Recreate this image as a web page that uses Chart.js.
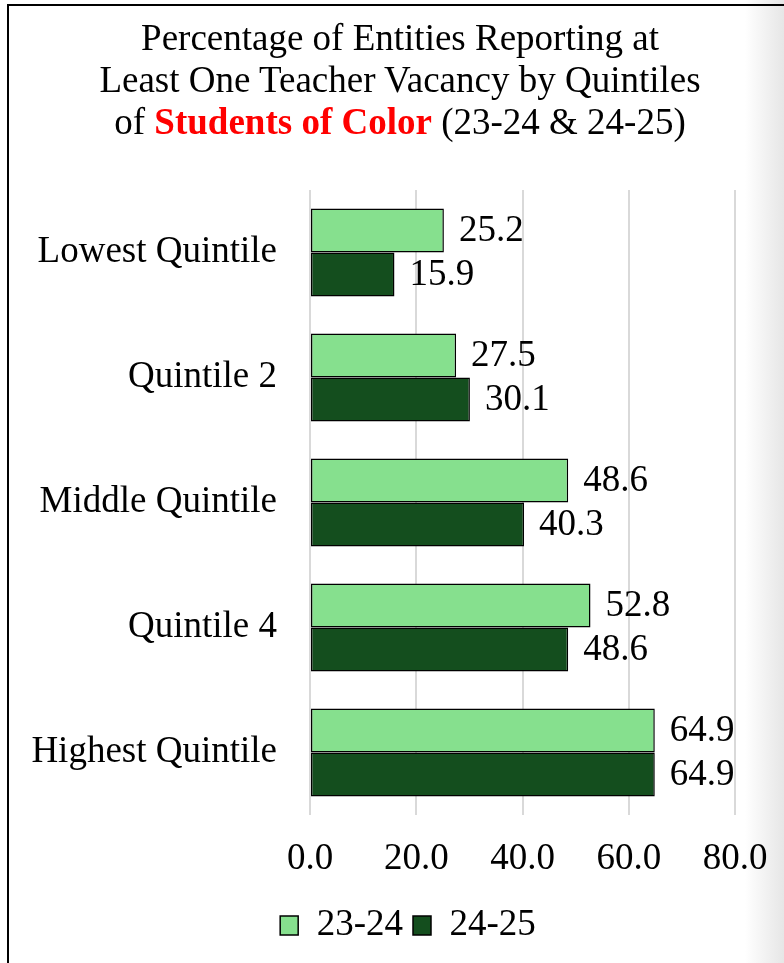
<!DOCTYPE html>
<html>
<head>
<meta charset="utf-8">
<script src="https://cdn.jsdelivr.net/npm/chart.js@4"></script>
<style>
  body { margin: 0; }
  #page {
    position: relative; width: 784px; height: 963px; overflow: hidden;
    background: linear-gradient(to right, #ffffff 0px, #ffffff 745px, #e6e6e6 784px);
  }
  #frame {
    position: absolute; left: 7px; top: 4px; width: 800px; height: 1000px;
    border-left: 2px solid #000; border-top: 2px solid #000;
  }
  #title {
    position: absolute; left: 0; top: 17px; width: 800px; text-align: center;
    font-family: "Liberation Serif", "Times New Roman", serif; font-size: 37px; line-height: 42px;
    color: #000;
  }
  #title b { color: #ff0000; }
  canvas { position: absolute; left: 0; top: 0; }
</style>
</head>
<body>
<div id="page">
  <div id="frame"></div>
  <canvas id="vacancyChart" width="784" height="963"></canvas>
  <div id="title">Percentage of Entities Reporting at<br>Least One Teacher Vacancy by Quintiles<br>of <b>Students of Color</b> (23-24 &amp; 24-25)</div>
</div>
<script>
  const quintiles = ['Lowest Quintile', 'Quintile 2', 'Middle Quintile', 'Quintile 4', 'Highest Quintile'];
  const year2324 = [25.2, 27.5, 48.6, 52.8, 64.9];
  const year2425 = [15.9, 30.1, 40.3, 48.6, 64.9];
  const xTicks = [0, 20, 40, 60, 80];

  const serif = '"Liberation Serif", "Times New Roman", serif';

  // value labels at the end of each bar
  const barValues = {
    id: 'barValues',
    afterDatasetsDraw(chart) {
      const ctx = chart.ctx;
      ctx.save();
      ctx.font = '37px ' + serif;
      ctx.fillStyle = '#000';
      ctx.textAlign = 'left';
      ctx.textBaseline = 'middle';
      chart.data.datasets.forEach((ds, i) => {
        chart.getDatasetMeta(i).data.forEach((bar, j) => {
          ctx.fillText(ds.data[j].toFixed(1), bar.x + 15, bar.y + 1);
        });
      });
      ctx.restore();
    }
  };

  const vacancyCtx = document.getElementById('vacancyChart').getContext('2d');
  new Chart(vacancyCtx, {
    type: 'bar',
    data: {
      labels: quintiles,
      datasets: [{
        label: '23-24',
        data: year2324,
        backgroundColor: '#86E08E',
        borderColor: '#000',
        borderWidth: 1.5,
        borderSkipped: false,
        categoryPercentage: 0.704,
        barPercentage: 1
      }, {
        label: '24-25',
        data: year2425,
        backgroundColor: '#144E1E',
        borderColor: '#000',
        borderWidth: 1.5,
        borderSkipped: false,
        categoryPercentage: 0.704,
        barPercentage: 1
      }]
    },
    options: {
      indexAxis: 'y',
      responsive: false,
      animation: false,
      layout: { padding: { top: 190, left: 32, right: 0, bottom: 9 } },
      scales: {
        x: {
          min: 0,
          max: 80,
          afterBuildTicks(scale) { scale.ticks = xTicks.map(v => ({ value: v })); },
          afterFit(scale) { scale.height = 82; scale.paddingRight = 49; },
          grid: { color: '#d9d9d9', lineWidth: 2, drawTicks: false },
          border: { display: false },
          ticks: {
            padding: 22,
            color: '#000',
            font: { family: serif, size: 37 },
            callback: v => Number(v).toFixed(1)
          }
        },
        y: {
          afterFit(scale) { scale.width = 278; },
          grid: { display: false, drawTicks: false },
          border: { display: false },
          ticks: {
            padding: 33,
            color: '#000',
            font: { family: serif, size: 37 }
          }
        }
      },
      plugins: {
        title: { display: false },
        tooltip: { enabled: false },
        legend: {
          position: 'bottom',
          labels: {
            color: '#000',
            font: { family: serif, size: 37 },
            boxWidth: 18,
            boxHeight: 19,
            padding: 10
          }
        }
      }
    },
    plugins: [barValues]
  });
</script>
</body>
</html>
